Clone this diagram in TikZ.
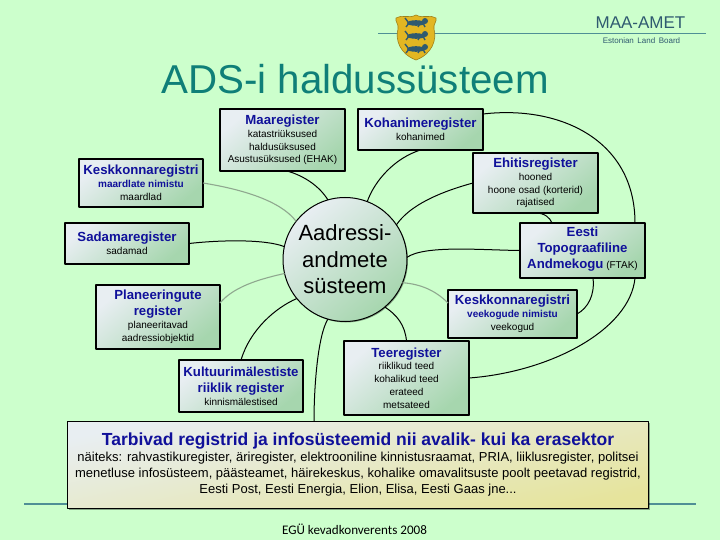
\documentclass[tikz,border=0pt]{standalone}
\usepackage{fontspec}
\setmainfont{Liberation Sans}
\newfontfamily\footfont{Carlito}
\usetikzlibrary{shadows}
\definecolor{slidegreen}{HTML}{CCFFCC}
\definecolor{slideteal}{HTML}{0F7F78}
\definecolor{ruleteal}{HTML}{4F8F95}
\definecolor{regblue}{HTML}{10109A}
\definecolor{boxlight}{HTML}{E8EEF2}
\definecolor{boxdark}{HTML}{A6D6AE}
\definecolor{boxkhaki}{HTML}{E6E49C}
\definecolor{logoblue}{HTML}{2F5A70}
\definecolor{shieldgold}{HTML}{E2B622}
\definecolor{linkgrey}{HTML}{8FA88F}
\newcommand{\regname}[1]{{\fontsize{13.2}{15}\selectfont\bfseries\color{regblue}\rule[-5.5pt]{0pt}{10pt}#1}}
\newcommand{\regsub}[1]{{\fontsize{10}{12}\selectfont\bfseries\color{regblue}#1}}
\tikzset{
    regbox/.style={draw=black, line width=1.1pt, inner sep=0pt, outer sep=0pt, align=center,
        font=\fontsize{10}{12.8}\selectfont, top color=boxlight, bottom color=boxdark, shading angle=40,
        drop shadow={shadow xshift=1pt, shadow yshift=-1pt, fill=black, opacity=0.35}},
    link/.style={black, line width=1pt},
    greylink/.style={linkgrey, line width=1.1pt}
}
\begin{document}
\begin{tikzpicture}[x=1pt, y=-1pt, line join=round]
    \useasboundingbox (0,0) rectangle (720,540);
    \fill[slidegreen] (0,0) rectangle (720,540);

    % Header rule, shield and land board mark
    \draw[ruleteal, line width=0.7pt] (378,33.5) -- (706,33.5);
    \draw[shieldgold!70!black, fill=shieldgold, line width=0.6pt] (396,18) .. controls (402,14) and (409,19) .. (416,15)
        .. controls (423,19) and (430,14) .. (436,18) .. controls (437,22) and (433,24) .. (434,29)
        .. controls (437,40) and (432,54) .. (416,60) .. controls (400,54) and (395,40) .. (398,29)
        .. controls (399,24) and (395,22) .. (396,18) -- cycle;
    \foreach \y in {23,36,49} {
        \fill[logoblue] (416,\y) ellipse (9pt and 2.8pt);
        \fill[logoblue] (425,\y-2) circle (3pt);
        \draw[logoblue, line width=1.4pt] (409,\y) -- (406,\y+4) (423,\y) -- (425,\y+4) (408,\y-1) -- (405,\y-5) (420,\y) -- (418,\y+4);
    }
    \node[text=logoblue, font=\fontsize{17}{19}\selectfont] (maaamet) at (640.5,23) {MAA-AMET};
    \node[text=logoblue, font=\fontsize{8}{9}\selectfont] (landboard) at (641.5,41) {Estonian\, Land\, Board};

    % Title and footer
    \node[text=slideteal, font=\fontsize{40.3}{44}\selectfont] (title) at (355,79) {ADS-i haldussüsteem};
    \node[font=\footfont\fontsize{13.1}{15}\selectfont] (footer) at (354.5,529) {EGÜ kevadkonverents 2008};

    % Rule behind the consumer box
    \draw[ruleteal, line width=1.6pt] (24,504) -- (696,504);

    % Centre
    \node[regbox, circle, minimum size=124pt, font=\fontsize{22}{26.5}\selectfont, line width=1pt] (circ) at (345,259.5)
        {Aadressi-\\andmete\\süsteem};

    % Registers
    \node[regbox, minimum width=125pt, minimum height=62pt] (maa) at (282.5,140)
        {\regname{Maaregister}\\katastriüksused\\haldusüksused\\Asustusüksused (EHAK)};
    \node[regbox, minimum width=124pt, minimum height=48pt] (keskm) at (141,183)
        {\regname{Keskkonnaregistri}\\\regsub{maardlate nimistu}\\maardlad};
    \node[regbox, minimum width=124pt, minimum height=41pt] (sadam) at (127,243.5)
        {\regname{Sadamaregister}\\sadamad};
    \node[regbox, minimum width=124pt, minimum height=64pt] (plan) at (158,317)
        {\regname{Planeeringute}\\\regname{register}\\planeeritavad\\aadressiobjektid};
    \node[regbox, minimum width=124pt, minimum height=52pt] (kultuur) at (241,386)
        {\regname{Kultuurimälestiste}\\\regname{riiklik register}\\kinnismälestised};
    \node[regbox, minimum width=125pt, minimum height=41pt] (kohan) at (420.5,129.5)
        {\regname{Kohanimeregister}\\kohanimed};
    \node[regbox, minimum width=125pt, minimum height=60pt] (ehitis) at (535.5,183)
        {\regname{Ehitisregister}\\hooned\\hoone osad (korterid)\\rajatised};
    \node[regbox, minimum width=125pt, minimum height=55pt] (eesti) at (582.5,250.5)
        {\regname{Eesti}\\\regname{Topograafiline}\\\regname{Andmekogu} (FTAK)};
    \node[regbox, minimum width=129pt, minimum height=48pt] (keskv) at (512.5,314)
        {\regname{Keskkonnaregistri}\\\regsub{veekogude nimistu}\\veekogud};
    \node[regbox, minimum width=125pt, minimum height=74pt] (tee) at (406.5,378)
        {\regname{Teeregister}\\riiklikud teed\\kohalikud teed\\erateed\\metsateed};

    % Consumers
    \node[regbox, bottom color=boxkhaki, shading angle=12, minimum width=581pt, minimum height=87pt,
        font=\fontsize{13}{16}\selectfont] (tarbiv) at (358,465)
        {{\fontsize{17.5}{19}\selectfont\bfseries\color{regblue}Tarbivad registrid ja infosüsteemid nii avalik- kui ka erasektor}\\
        näiteks: rahvastikuregister, äriregister, elektrooniline kinnistusraamat, PRIA, liiklusregister, politsei\\
        menetluse infosüsteem, päästeamet, häirekeskus, kohalike omavalitsuste poolt peetavad registrid,\\
        Eesti Post, Eesti Energia, Elion, Elisa, Eesti Gaas jne...};

    % Links to the centre
    \draw[link] ([xshift=4.5pt]maa.south) .. controls (305,176) and (320,187) .. (circ.106);
    \draw[greylink] (keskm.east) .. controls (240,189) and (280,200) .. (circ.142);
    \draw[link] (sadam.east) .. controls (220,240) and (265,239) .. (circ.168);
    \draw[greylink] ([yshift=14pt]plan.east) .. controls (235,285) and (265,278) .. (circ.193);
    \draw[link] (kultuur.north) .. controls (250,330) and (275,308) .. (circ.219);
    \draw[link] (circ.254) .. controls (318,335) and (314,385) .. ([xshift=-44pt]tarbiv.north);
    \draw[link] (kohan.south) .. controls (395,158) and (375,180) .. (circ.69);
    \draw[link] (ehitis.west) .. controls (440,192) and (410,205) .. (circ.34);
    \draw[link] (eesti.west) .. controls (480,250) and (425,245) .. (circ.2);
    \draw[greylink] ([yshift=11pt]keskv.west) .. controls (435,290) and (420,284) .. (circ.-22);
    \draw[link] (tee.north) .. controls (405,325) and (397,315) .. (circ.-50);

    % Links between registers
    \draw[link] ([yshift=15.5pt]kohan.east) .. controls (560,105) and (635,140) .. ([xshift=52.5pt]eesti.north);
    \draw[link] (ehitis.south) .. controls (545,213) and (550,218) .. ([xshift=-30.5pt]eesti.north);
    \draw[link] ([xshift=10.5pt]eesti.south) .. controls (595,295) and (588,308) .. (keskv.east);
    \draw[link] ([xshift=52.5pt]eesti.south) .. controls (630,330) and (550,372) .. (tee.east);
\end{tikzpicture}
\end{document}
